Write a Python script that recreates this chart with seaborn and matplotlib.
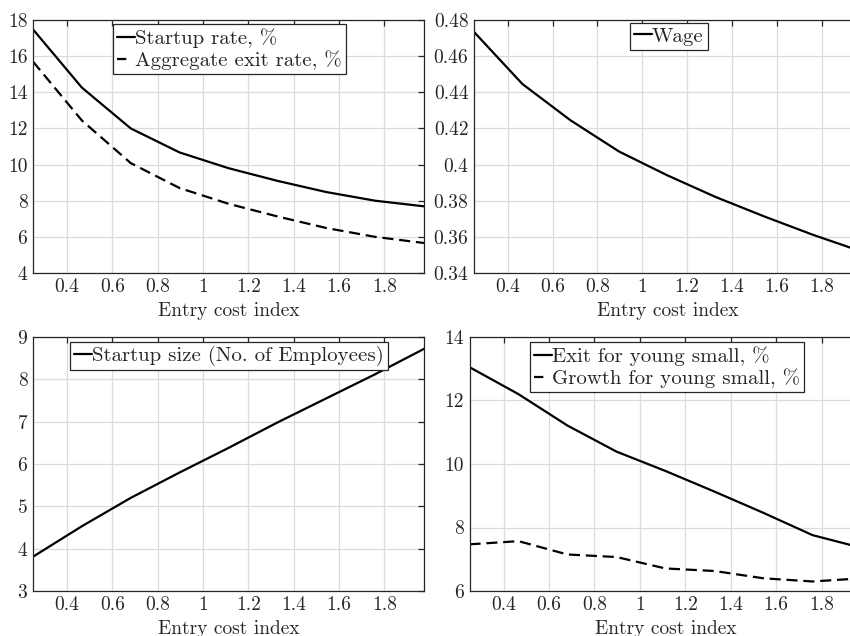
import numpy as np
import pandas as pd
import matplotlib
matplotlib.use("Agg")
import matplotlib.pyplot as plt
import seaborn as sns

# ---- data ----
entry_cost = [0.25, 0.4656, 0.6813, 0.8969, 1.1125, 1.3281, 1.5438, 1.7594, 1.975]
startup_rate = [17.48, 14.26, 12.0, 10.67, 9.8, 9.1, 8.48, 8.0, 7.69]
exit_rate = [15.7, 12.44, 10.08, 8.7, 7.83, 7.13, 6.49, 6.0, 5.66]
wage = [0.4734, 0.4446, 0.4244, 0.4072, 0.394, 0.382, 0.3713, 0.3612, 0.352]
startup_size = [3.81, 4.53, 5.2, 5.8, 6.38, 6.98, 7.55, 8.12, 8.72]
exit_young_small = [13.05, 12.2, 11.21, 10.39, 9.78, 9.13, 8.46, 7.76, 7.36]
growth_young_small = [7.47, 7.57, 7.15, 7.07, 6.71, 6.63, 6.4, 6.3, 6.4]

xlabel = "Entry cost index"
xticks = [0.4, 0.6, 0.8, 1.0, 1.2, 1.4, 1.6, 1.8]

sns.set_style("white")
plt.rcParams["font.family"] = ["cmr10", "DejaVu Serif"]
plt.rcParams["axes.formatter.use_mathtext"] = True
plt.rcParams["mathtext.fontset"] = "cm"

fig = plt.figure(figsize=(8.5, 6.36), dpi=100)

W, H = 850.0, 636.0
def add_ax(l, r, t, b):
    return fig.add_axes([l / W, 1 - b / H, (r - l) / W, (b - t) / H])

ax_tl = add_ax(33, 424, 20, 273)
ax_tr = add_ax(474, 861, 20, 273)
ax_bl = add_ax(33, 424, 337, 591)
ax_br = add_ax(469.5, 861.5, 337, 591)

FS_TICK = 14
FS_LAB = 14
FS_LEG = 15
LW = 1.6
DASH = (5, 2.6)

def style(ax, ylim, yticks, yfmt):
    ax.set_xlim(entry_cost[0], entry_cost[-1])
    ax.set_ylim(*ylim)
    ax.set_xticks(xticks)
    ax.set_xticklabels([("%g" % v) for v in xticks])
    ax.set_yticks(yticks)
    ax.set_yticklabels([yfmt(v) for v in yticks])
    ax.grid(True, color="#dcdcdc", linewidth=0.9)
    ax.set_axisbelow(True)
    for s in ax.spines.values():
        s.set_color("#262626")
        s.set_linewidth(0.9)
        s.set_visible(True)
    ax.tick_params(direction="in", length=4, width=0.9, top=True, right=True,
                   labelsize=FS_TICK, colors="#262626", pad=4)
    ax.set_xlabel(xlabel, fontsize=FS_LAB, color="#262626", labelpad=4)
    ax.set_ylabel("")

def legend(ax, bbox):
    leg = ax.legend(loc="upper left", bbox_to_anchor=bbox, fontsize=FS_LEG,
                    handlelength=0.85, handletextpad=0.0, borderpad=0.2,
                    labelspacing=0.12, borderaxespad=0.0, fancybox=False,
                    framealpha=1.0, edgecolor="#262626")
    leg.get_frame().set_linewidth(0.9)
    hs = leg.legend_handles
    if len(hs) > 1:
        hs[1].set_dashes((4.2, 10))

# top-left
df1 = pd.DataFrame({"x": entry_cost, "y": startup_rate})
df2 = pd.DataFrame({"x": entry_cost, "y": exit_rate})
sns.lineplot(data=df1, x="x", y="y", ax=ax_tl, color="black", lw=LW, label="Startup rate, %")
sns.lineplot(data=df2, x="x", y="y", ax=ax_tl, color="black", lw=LW,
             label="Aggregate exit rate, %").lines[-1].set_dashes(DASH)
style(ax_tl, (4, 18), [4, 6, 8, 10, 12, 14, 16, 18], lambda v: "%d" % v)
legend(ax_tl, ((113 - 33) / 391, 1 - 4 / 253))

# top-right
df3 = pd.DataFrame({"x": entry_cost, "y": wage})
sns.lineplot(data=df3, x="x", y="y", ax=ax_tr, color="black", lw=LW, label="Wage")
style(ax_tr, (0.34, 0.48), [0.34, 0.36, 0.38, 0.40, 0.42, 0.44, 0.46, 0.48], lambda v: "%g" % round(v, 2))
legend(ax_tr, ((630 - 474) / 387, 1 - 3 / 253))

# bottom-left
df4 = pd.DataFrame({"x": entry_cost, "y": startup_size})
sns.lineplot(data=df4, x="x", y="y", ax=ax_bl, color="black", lw=LW, label="Startup size (No. of Employees)")
style(ax_bl, (3, 9), [3, 4, 5, 6, 7, 8, 9], lambda v: "%d" % v)
legend(ax_bl, ((70 - 33) / 391, 1 - 5 / 254))

# bottom-right
df5 = pd.DataFrame({"x": entry_cost, "y": exit_young_small})
df6 = pd.DataFrame({"x": entry_cost, "y": growth_young_small})
sns.lineplot(data=df5, x="x", y="y", ax=ax_br, color="black", lw=LW, label="Exit for young small, %")
sns.lineplot(data=df6, x="x", y="y", ax=ax_br, color="black", lw=LW,
             label="Growth for young small, %").lines[-1].set_dashes(DASH)
style(ax_br, (6, 14), [6, 8, 10, 12, 14], lambda v: "%d" % v)
legend(ax_br, ((530 - 469.5) / 392, 1 - 5 / 254))

fig.savefig("out.png", dpi=100)
